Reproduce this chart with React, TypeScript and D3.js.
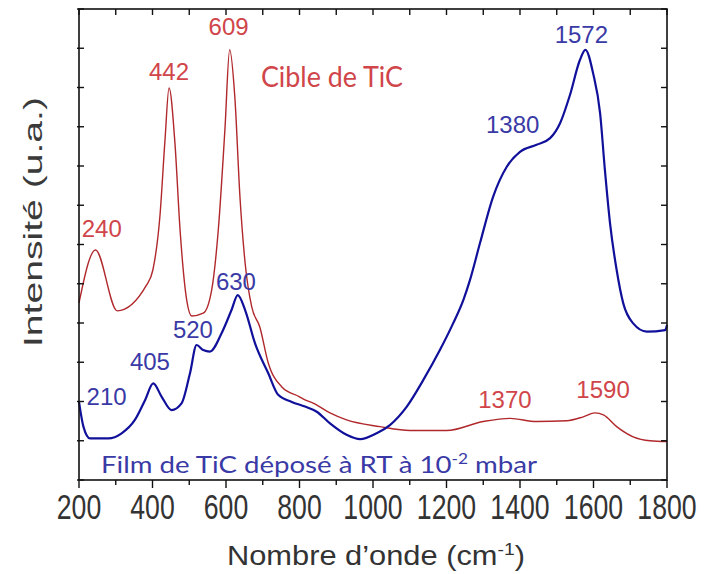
import React from 'react';
import * as d3 from 'd3';

// Raman spectra (wavenumber cm-1, intensity a.u.)
const redWave = [200,245,304,384,401,420,434,445,461,475,493,507,538,561,579,597,610,624,638,652,670,692,715,752,800,815,837,883,928,1019,1101,1200,1300,1373,1445,1527,1572,1604,1627,1663,1708,1754,1800];
const redInt = [4.51,5.86,4.31,4.97,5.35,6.70,8.66,9.99,8.59,6.37,4.59,4.18,4.25,4.84,6.37,8.92,10.96,9.76,7.21,5.53,4.41,3.90,2.98,2.37,2.12,2.04,1.96,1.71,1.53,1.36,1.26,1.26,1.49,1.57,1.49,1.51,1.61,1.71,1.66,1.36,1.10,1.00,0.98];

const blueWave = [200,212,230,280,316,352,380,402,425,452,479,502,520,538,556,588,615,632,652,679,715,742,779,815,847,883,928,965,1010,1046,1092,1137,1182,1218,1246,1264,1291,1327,1364,1400,1445,1482,1509,1536,1563,1578,1599,1618,1631,1645,1663,1681,1708,1745,1795,1800];
const blueInt = [1.99,1.36,1.06,1.06,1.19,1.53,2.04,2.46,2.12,1.78,1.95,2.72,3.44,3.31,3.27,3.74,4.33,4.71,4.33,3.48,2.72,2.17,1.99,1.87,1.74,1.44,1.15,1.04,1.19,1.40,1.87,2.55,3.31,3.99,4.59,5.10,6.03,7.22,7.98,8.36,8.54,8.71,9.09,9.81,10.70,10.96,10.36,9.34,7.90,6.54,5.35,4.50,3.99,3.78,3.82,3.95];

const xTickLabels = [200,400,600,800,1000,1200,1400,1600,1800];
const xMinorTicks = d3.range(200, 1801, 100);
const yTicks = d3.range(0, 13, 1);

const redPeaks = ['240','442','609','1370','1590'];
const redPeakWave = [262,445,607,1359,1626];
const redPeakInt = [6.19,10.19,11.34,1.83,2.09];

const bluePeaks = ['210','405','520','630','1380','1572'];
const bluePeakWave = [275,393,510,627,1380,1567];
const bluePeakInt = [1.91,2.80,3.62,4.84,8.84,11.13];

const redColor = '#b0282c';
const redText = '#d0454a';
const blueColor = '#10109a';
const blueText = '#3a3aa6';

export default function App() {
  const W = 705, H = 574;
  const x = d3.scaleLinear().domain([200, 1800]).range([79, 667]);
  const y = d3.scaleLinear().domain([0, 12]).range([480, 9]);

  const line = d3.line<[number, number]>()
    .x(d => x(d[0]))
    .y(d => y(d[1]))
    .curve(d3.curveMonotoneX);

  const redPts = redWave.map((w, i) => [w, redInt[i]] as [number, number]);
  const bluePts = blueWave.map((w, i) => [w, blueInt[i]] as [number, number]);

  const numFont = "'Liberation Sans', Arial, sans-serif";
  const calFont = "Lato, 'Open Sans', sans-serif";

  return (
    <svg width={W} height={H} style={{ position: 'absolute', left: 0, top: 0, background: '#fff' }}>
      <rect x={0} y={0} width={W} height={H} fill="#fff" />
      {/* curves */}
      <path d={line(redPts) || ''} fill="none" stroke={redColor} strokeWidth={1.4} />
      <path d={line(bluePts) || ''} fill="none" stroke={blueColor} strokeWidth={2.2} />

      {/* frame */}
      <rect x={x(200)} y={y(12)} width={x(1800) - x(200)} height={y(0) - y(12)} fill="none" stroke="#111" strokeWidth={1.6} />

      {/* top ticks (inward) */}
      {xMinorTicks.map(t => (
        <line key={'tt' + t} x1={x(t)} x2={x(t)} y1={y(12)} y2={y(12) + 6} stroke="#111" strokeWidth={1.4} />
      ))}
      {/* bottom ticks (outward) */}
      {xMinorTicks.map(t => (
        <line key={'bt' + t} x1={x(t)} x2={x(t)} y1={y(0)} y2={y(0) + (t % 200 === 0 ? 8 : 5)} stroke="#111" strokeWidth={1.4} />
      ))}
      {/* left/right ticks (inward) */}
      {yTicks.map(t => (
        <g key={'yt' + t}>
          <line x1={x(200) - 2} x2={x(200) + 5} y1={y(t)} y2={y(t)} stroke="#111" strokeWidth={1.4} />
          <line x1={x(1800) - 6} x2={x(1800)} y1={y(t)} y2={y(t)} stroke="#111" strokeWidth={1.4} />
        </g>
      ))}

      {/* x tick labels */}
      {xTickLabels.map(t => (
        <text key={'xl' + t} transform={`translate(${x(t)},${519}) scale(0.86,1.12)`} textAnchor="middle"
          fontFamily={numFont} fontSize={31} fill="#333">{t}</text>
      ))}

      {/* axis titles */}
      <text x={376} y={565} textAnchor="middle" fontFamily={numFont} fontSize={27} fill="#333"
        textLength={298} lengthAdjust="spacingAndGlyphs">
        Nombre d’onde (cm<tspan dy={-10} fontSize={17}>-1</tspan><tspan dy={10}>)</tspan>
      </text>
      <text transform={`translate(42,222) rotate(-90)`} textAnchor="middle" fontFamily={numFont} fontSize={26} fill="#3a3a3a"
        textLength={250} lengthAdjust="spacingAndGlyphs">
        Intensité (u.a.)
      </text>

      {/* peak labels */}
      {redPeaks.map((s, i) => (
        <text key={'rp' + s} x={x(redPeakWave[i])} y={y(redPeakInt[i])} textAnchor="middle"
          fontFamily={numFont} fontSize={24} fill={redText}>{s}</text>
      ))}
      {bluePeaks.map((s, i) => (
        <text key={'bp' + s} x={x(bluePeakWave[i])} y={y(bluePeakInt[i])} textAnchor="middle"
          fontFamily={numFont} fontSize={24} fill={blueText}>{s}</text>
      ))}

      {/* series captions */}
      <text x={x(695)} y={y(10.01)} fontFamily={calFont} fontSize={28} fill={redText}
        textLength={142} lengthAdjust="spacingAndGlyphs">Cible de TiC</text>
      <text x={x(260)} y={y(0.18)} fontFamily={calFont} fontSize={24} fill={blueText}
        textLength={436} lengthAdjust="spacingAndGlyphs">
        Film de TiC déposé à RT à 10<tspan dy={-9} fontSize={15}>-2</tspan><tspan dy={9}> mbar</tspan>
      </text>
    </svg>
  );
}
